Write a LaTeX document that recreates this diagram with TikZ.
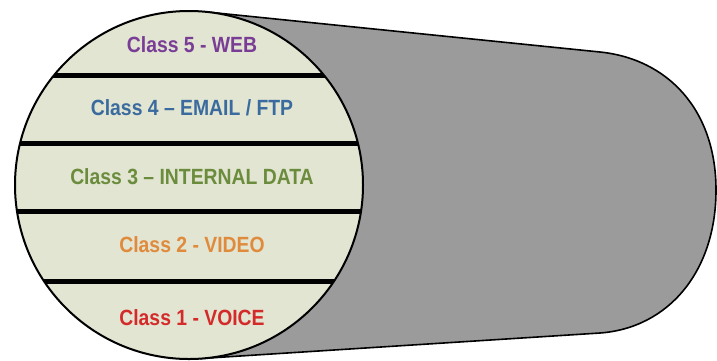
\documentclass[tikz,border=0pt]{standalone}
\usepackage{fontspec}
\usepackage{graphicx}
\setmainfont{Liberation Sans}
\definecolor{tubegray}{HTML}{9B9B9B}
\definecolor{facefill}{HTML}{E1E5D2}
\definecolor{webcol}{HTML}{7A3D96}
\definecolor{mailcol}{HTML}{3A6A9E}
\definecolor{datacol}{HTML}{6B8C3C}
\definecolor{videocol}{HTML}{E08A3C}
\definecolor{voicecol}{HTML}{D42A2A}
% narrow bold label text
\newcommand{\bandtext}[1]{\scalebox{0.88}[1]{\bfseries\fontsize{22}{24}\selectfont #1}}
\begin{document}
\begin{tikzpicture}[x=1pt,y=-1pt,
  classlabel/.style={inner sep=0pt, anchor=center},
  divider/.style={line width=5pt, black}]
\useasboundingbox (0,0) rectangle (717,360);
% tube body behind the face
\coordinate (tl) at (205,11.8);
\coordinate (tr) at (600,52);
\coordinate (re) at (716,190);
\coordinate (br) at (600,333);
\coordinate (bl) at (201,358.5);
\filldraw[fill=tubegray, draw=black, line width=1.6pt]
  (tl) -- (tr) .. controls (668,59) and (716,110) .. (re)
  .. controls (716,272) and (668,328) .. (br) -- (bl) -- cycle;
% circular face with the class bands
\coordinate (c) at (189,185);
\fill[facefill] (c) circle (174);
\begin{scope}
  \clip (c) circle (174);
  \foreach \yy in {75,143,211,281}
    \draw[divider] (0,\yy) -- (400,\yy);
\end{scope}
\draw[black, line width=2pt] (c) circle (174);
% labels
\node[classlabel, text=webcol]   (web)   at (192,44.5)  {\bandtext{Class 5 - WEB}};
\node[classlabel, text=mailcol]  (mail)  at (192,107.5) {\bandtext{Class 4 – EMAIL / FTP}};
\node[classlabel, text=datacol]  (data)  at (192,176.5) {\bandtext{Class 3 – INTERNAL DATA}};
\node[classlabel, text=videocol] (video) at (192,245)   {\bandtext{Class 2 - VIDEO}};
\node[classlabel, text=voicecol] (voice) at (192,317.5) {\bandtext{Class 1 - VOICE}};
\end{tikzpicture}
\end{document}
